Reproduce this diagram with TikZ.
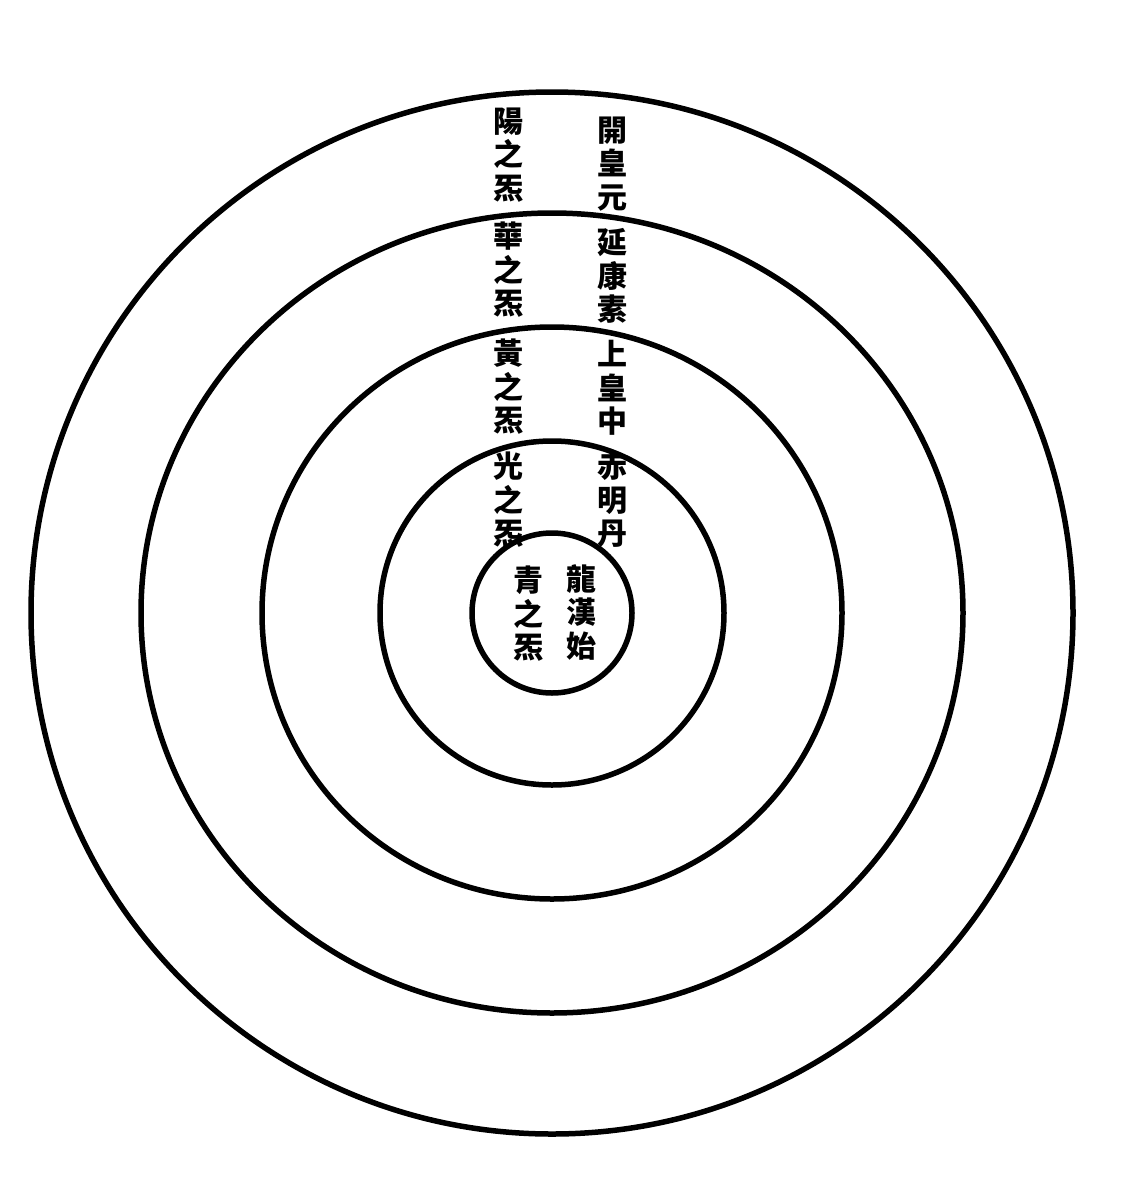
\documentclass[tikz,border=0pt]{standalone}
\usepackage{fontspec}
\newfontfamily\cjk{Noto Sans CJK TC}
\begin{document}
\begin{tikzpicture}[x=1pt, y=-1pt,
	ring/.style={line width=5.5pt},
	col/.style={align=center, inner sep=0pt, font=\cjk\bfseries\fontsize{30}{33.5}\selectfont}]
	\useasboundingbox (0,0) rectangle (1132,1194);
	
	% Rings
	\coordinate (o) at (552,613);
	\foreach \rx/\ry in {521/521, 411/400, 290/286, 172/172, 80/80} {
		\draw[ring] (o) ellipse ({\rx pt} and {\ry pt});
	}
	
	% Right column
	\node[col] (kaihuang) at (612,164) {開\\皇\\元};
	\node[col] (yankang)  at (612,276) {延\\康\\素};
	\node[col] (shanghuang) at (612,388) {上\\皇\\中};
	\node[col] (chiming)  at (612,500) {赤\\明\\丹};
	
	% Left column
	\node[col] (yang)  at (508,155) {陽\\之\\炁};
	\node[col] (hua)   at (508,270) {華\\之\\炁};
	\node[col] (huang) at (508,387) {黃\\之\\炁};
	\node[col] (guang) at (508,500) {光\\之\\炁};
	
	% Centre
	\node[col] (qing)    at (528,614) {青\\之\\炁};
	\node[col] (longhan) at (581,612) {龍\\漢\\始};
\end{tikzpicture}
\end{document}
